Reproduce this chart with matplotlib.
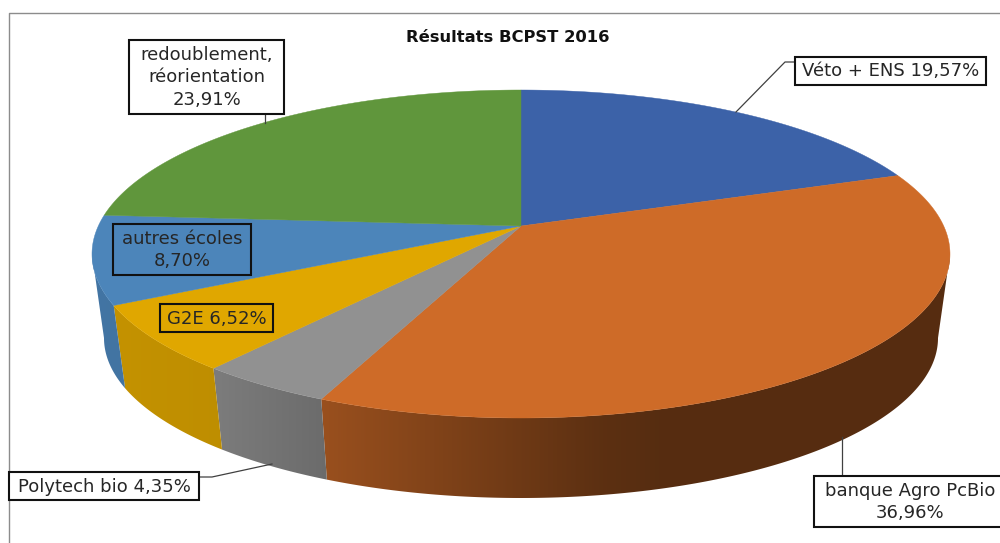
import numpy as np
import matplotlib
matplotlib.use("Agg")
import matplotlib.pyplot as plt
from matplotlib.patches import Polygon, Rectangle

# ---- data -------------------------------------------------------------
title = "Résultats BCPST 2016"
categories = ["Véto + ENS", "banque Agro PcBio", "Polytech bio", "G2E",
              "autres écoles", "redoublement, réorientation"]
values = [19.57, 36.96, 4.35, 6.52, 8.70, 23.91]
value_labels = ["19,57%", "36,96%", "4,35%", "6,52%", "8,70%", "23,91%"]
colors = ["#3C62A8", "#CE6B28", "#919191", "#E0A700", "#4C85BA", "#60963C"]

# ---- layout ------------------------------------------------------------
CX = 521
K = 0.1707
TOP = dict(cy=254, a=429, b=164)
LOW = dict(cy=338, a=417, b=160)
shade_x = [90, 220, 327, 600, 660, 1000]
shade_f = [0.88, 0.85, 0.74, 0.45, 0.42, 0.42]

def project(theta, cy, a, b):
    """Clockwise angle from 12 o'clock on the disc, seen in perspective."""
    u, v = np.sin(theta), -np.cos(theta)
    d = 1 - K * v
    apex = cy - b * K
    return CX + a * np.sqrt(1 - K**2) * u / d, apex + b * (1 - K**2) * v / d

fig = plt.figure(figsize=(10, 5.43), dpi=100)
ax = fig.add_axes([0, 0, 1, 1])

# frame (top and left only are visible)
ax.plot([1000, 8.5, 8.5], [12.5, 12.5, 543], color="#8C8C8C", lw=1.0, zorder=1)

edges = np.cumsum([0] + values) / sum(values) * 2 * np.pi

# side wall: horizontal gradient clipped to each slice's outline,
# visible between the two silhouette tangents of the perspective ellipse
wall_from = np.arccos(-K)
wall_to = 2 * np.pi - wall_from
grad_x = np.linspace(0, 1000, 1001)
shade = np.interp(grad_x, shade_x, shade_f)
for i, col in enumerate(colors):
    lo2, hi2 = max(edges[i], wall_from), min(edges[i + 1], wall_to)
    if hi2 <= lo2:
        continue
    th = np.linspace(lo2, hi2, 300)
    xt, yt = project(th, **TOP)
    xl, yl = project(th, **LOW)
    outline = np.vstack([np.column_stack([xt, yt]),
                         np.column_stack([xl, yl])[::-1]])
    base = np.array(matplotlib.colors.to_rgb(col))
    img = (shade[:, None] * base)[None, :, :]
    clip = Polygon(outline, closed=True, fc="none", ec="none",
                   transform=ax.transData)
    ax.add_patch(clip)
    im = ax.imshow(img, extent=(0, 1000, 543, 0), aspect="auto",
                   interpolation="bilinear", zorder=2 + i * 0.01)
    im.set_clip_path(clip)

# top face
apex = (CX, TOP["cy"] - TOP["b"] * K)
for i, col in enumerate(colors):
    th = np.linspace(edges[i], edges[i + 1], 200)
    xs, ys = project(th, **TOP)
    pts = np.vstack([[apex], np.column_stack([xs, ys])])
    ax.add_patch(Polygon(pts, closed=True, fc=col, ec=col, lw=0.3, zorder=3))

# leader lines
leaders = [([736, 785, 795], [112, 62, 62]),
           ([265, 265], [114, 123]),
           ([199, 212, 272], [477, 477, 464]),
           ([842, 842], [437, 476])]
for lx, ly in leaders:
    ax.plot(lx, ly, color="#404040", lw=0.9, zorder=4)

# labels: (x0, y0, x1, y1), text centre x, text, facecolour
boxes = [
    ((795, 57, 986, 85), 891, f"{categories[0]} {value_labels[0]}", "white"),
    ((814, 476, 1003, 527), 910, f"{categories[1]}\n{value_labels[1]}", "white"),
    ((9, 472, 199, 500), 104.5, f"{categories[2]} {value_labels[2]}", "white"),
    ((160, 304, 273, 332), 216.5, f"{categories[3]} {value_labels[3]}", "none"),
    ((113, 224, 251, 275), 182, f"{categories[4]}\n{value_labels[4]}", "none"),
    ((129, 40, 284, 114), 206.5, "redoublement,\nréorientation\n" + value_labels[5], "white"),
]
for (x0, y0, x1, y1), tx, txt, fc in boxes:
    ax.add_patch(Rectangle((x0, y0), x1 - x0, y1 - y0, fc=fc, ec="#111111",
                           lw=1.5, zorder=5))
    ax.text(tx, (y0 + y1) / 2 + 0.5, txt, ha="center", va="center",
            fontsize=13.0, color="#262626", linespacing=1.3,
            family="DejaVu Sans", zorder=6)

ax.text(507.5, 37.5, title, ha="center", va="center", fontsize=11.8,
        fontweight="bold", color="#111111", family="DejaVu Sans", zorder=6)

ax.set_xlim(0, 1000)
ax.set_ylim(543, 0)
ax.axis("off")
fig.savefig("out.png", dpi=100, facecolor="white")
